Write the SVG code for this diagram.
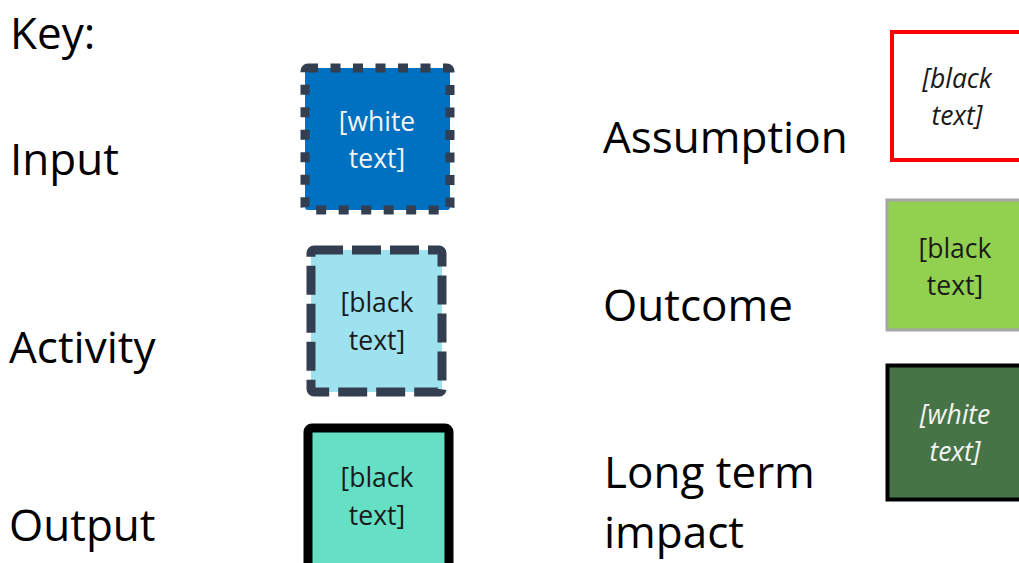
<svg xmlns="http://www.w3.org/2000/svg" width="1019" height="563" viewBox="0 0 1019 563">
<style>
.lbl{font-family:"Open Sans","Liberation Sans",sans-serif;font-size:44px;fill:#000}
.bt{font-family:"Open Sans","Liberation Sans",sans-serif;font-size:26.5px;text-anchor:middle}
.it{font-style:italic}
.dk{fill:#1a1a1a}
.wh{fill:#f4f4f4}
</style>
<rect width="1019" height="563" fill="#ffffff"/>
<g id="labels">
<text class="lbl" x="10" y="49">Key:</text>
<text class="lbl" x="10" y="175">Input</text>
<text class="lbl" x="9" y="363">Activity</text>
<text class="lbl" x="9" y="541">Output</text>
<text class="lbl" x="603" y="153">Assumption</text>
<text class="lbl" x="603" y="321">Outcome</text>
<text class="lbl" x="604" y="488">Long term</text>
<text class="lbl" x="604" y="548">impact</text>
</g>
<g id="input">
<rect x="305" y="68" width="145" height="142" fill="#0070C0" stroke="#333F50" stroke-width="9" stroke-dasharray="10 12.5" rx="3"/>
<text class="bt wh" x="377" y="131">[white</text>
<text class="bt wh" x="377" y="168">text]</text>
</g>
<g id="activity">
<rect x="311" y="250" width="131" height="142" fill="#9FE2EF" stroke="#333F50" stroke-width="9" stroke-dasharray="29 9" rx="3"/>
<text class="bt dk" x="377" y="312">[black</text>
<text class="bt dk" x="377" y="350">text]</text>
</g>
<g id="output">
<rect x="308" y="428" width="141" height="150" fill="#66E0C4" stroke="#000" stroke-width="9" stroke-linejoin="round" rx="4"/>
<text class="bt dk" x="377" y="487">[black</text>
<text class="bt dk" x="377" y="525">text]</text>
</g>
<g id="assumption">
<rect x="892" y="32" width="140" height="128" fill="#fff" stroke="#FF0000" stroke-width="4"/>
<text class="bt dk it" x="957" y="88">[black</text>
<text class="bt dk it" x="957" y="125">text]</text>
</g>
<g id="outcome">
<rect x="887" y="200" width="145" height="130" fill="#92D050" stroke="#A6A6A6" stroke-width="3"/>
<text class="bt dk" x="955" y="258">[black</text>
<text class="bt dk" x="955" y="295">text]</text>
</g>
<g id="impact">
<rect x="887.5" y="365.5" width="145" height="134" fill="#467447" stroke="#000" stroke-width="4"/>
<text class="bt wh it" x="955" y="424">[white</text>
<text class="bt wh it" x="955" y="461">text]</text>
</g>
<g id="connectors"></g>
</svg>
